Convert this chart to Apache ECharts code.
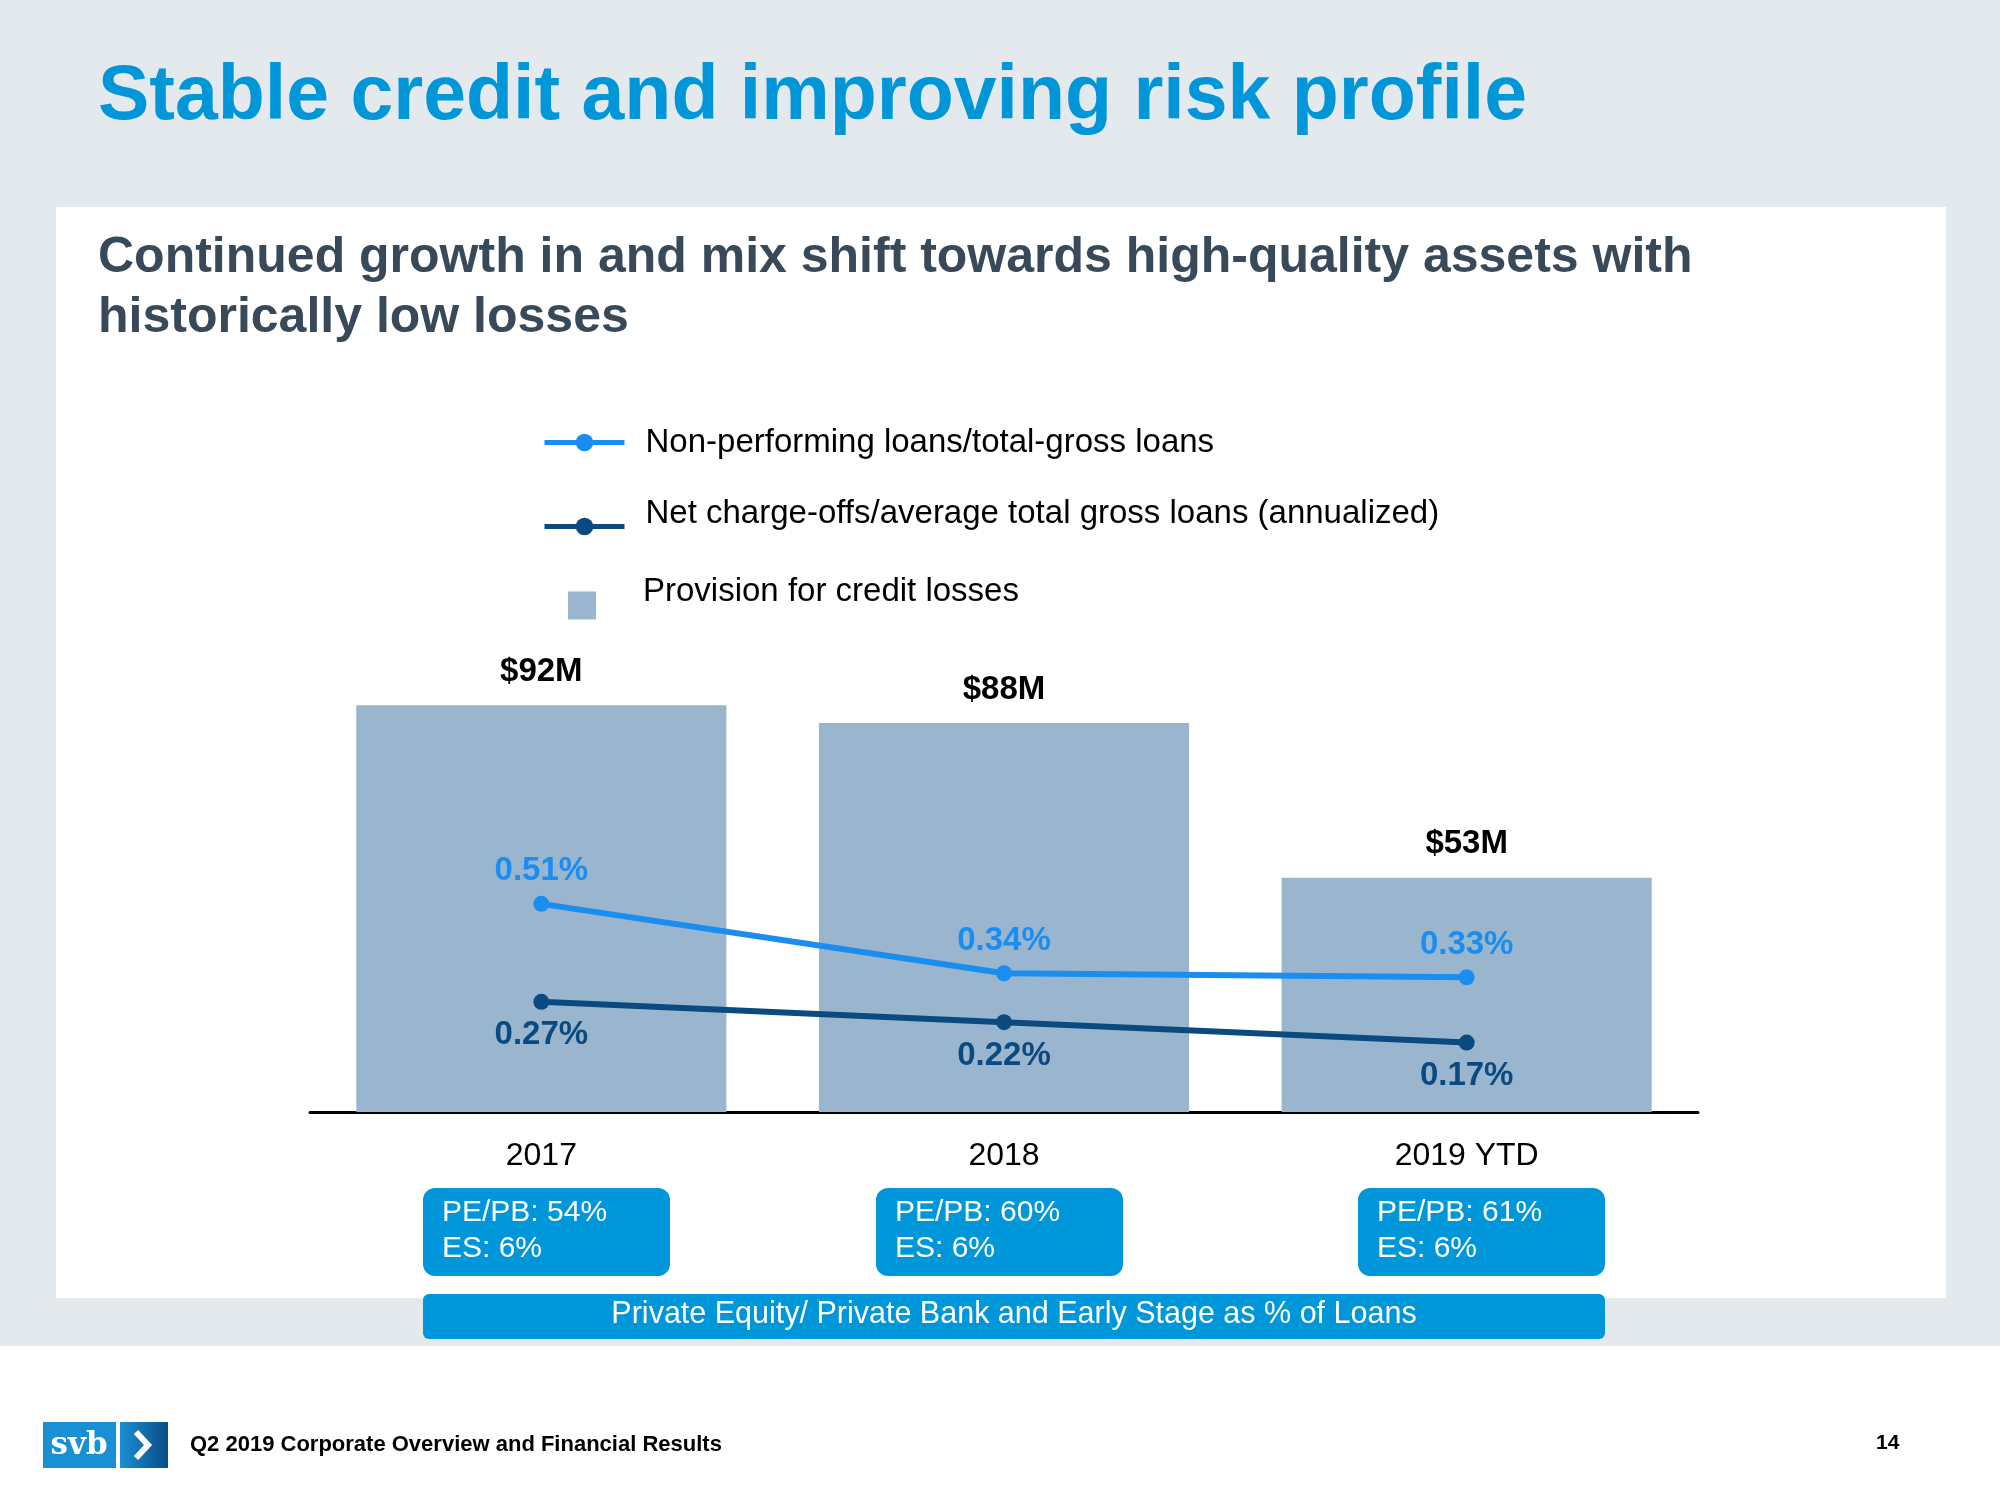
<!DOCTYPE html>
<html>
<head>
<meta charset="utf-8">
<script src="https://cdn.jsdelivr.net/npm/echarts@6/dist/echarts.min.js"></script>
<style>html,body{margin:0;padding:0;background:#fff;}#c{width:2000px;height:1500px;}</style>
</head>
<body>
<div id="c"></div>
<script>
// ---- data ----
var categories = ['2017', '2018', '2019 YTD'];
var provision = [92, 88, 53];            // $M
var nplRatio = [0.51, 0.34, 0.33];       // %
var ncoRatio = [0.27, 0.22, 0.17];       // %
var pePbShare = [54, 60, 61];            // %
var esShare = [6, 6, 6];                 // %
var seriesNames = [
  'Non-performing loans/total-gross loans',
  'Net charge-offs/average total gross loans (annualized)',
  'Provision for credit losses'
];

var FONT = '"Liberation Sans", Arial, sans-serif';
var C_TITLE = '#0096D8';
var C_SUB = '#38495A';
var C_LIGHT = '#1A8EF0';
var C_DARK = '#0B4A80';
var C_BAR = '#9AB5CE';
var C_BOX = '#0096DA';

var chart = echarts.init(document.getElementById('c'), null, {renderer: 'canvas'});

var boxX = [423, 876, 1358];
var graphics = [
  {type: 'rect', z: -20, shape: {x: 0, y: 0, width: 2000, height: 1346}, style: {fill: '#E4E9ED'}, silent: true},
  {type: 'rect', z: -19, shape: {x: 56, y: 207, width: 1890, height: 1091}, style: {fill: '#FFFFFF'}, silent: true},
  {type: 'text', z: 10, left: 98, top: 59, style: {text: 'Stable credit and improving risk profile', fill: C_TITLE, font: 'bold 77px ' + FONT}},
  {type: 'text', z: 10, left: 98, top: 233, style: {text: 'Continued growth in and mix shift towards high-quality assets with', fill: C_SUB, font: 'bold 50px ' + FONT}},
  {type: 'text', z: 10, left: 98, top: 293, style: {text: 'historically low losses', fill: C_SUB, font: 'bold 50px ' + FONT}},
  // bottom banner
  {type: 'rect', z: 5, shape: {x: 423, y: 1294, width: 1182, height: 45, r: 6}, style: {fill: C_BOX}},
  {type: 'text', z: 10, style: {x: 1014, y: 1315, text: 'Private Equity/ Private Bank and Early Stage as % of Loans', fill: '#fff', font: '30.5px ' + FONT, align: 'center', verticalAlign: 'middle'}},
  // footer
  {type: 'rect', z: 5, shape: {x: 43, y: 1422, width: 73, height: 46}, style: {fill: '#1A90D4'}},
  {type: 'text', z: 10, style: {x: 79, y: 1446, text: 'svb', fill: '#fff', font: 'bold 31px "DejaVu Serif", serif', align: 'center', verticalAlign: 'middle'}},
  {type: 'rect', z: 5, shape: {x: 120, y: 1422, width: 48, height: 46}, style: {fill: new echarts.graphic.LinearGradient(0, 0, 1, 0, [{offset: 0, color: '#1A90D4'}, {offset: 1, color: '#0A4C86'}])}},
  {type: 'polyline', z: 10, shape: {points: [[136, 1432], [148, 1445], [136, 1458]]}, style: {stroke: '#fff', lineWidth: 6, fill: null}},
  {type: 'text', z: 10, style: {x: 190, y: 1445, text: 'Q2 2019 Corporate Overview and Financial Results', fill: '#000', font: 'bold 22px ' + FONT, verticalAlign: 'middle'}},
  {type: 'text', z: 10, style: {x: 1876, y: 1443, text: '14', fill: '#000', font: 'bold 21px ' + FONT, verticalAlign: 'middle'}}
];
for (var i = 0; i < categories.length; i++) {
  graphics.push({type: 'rect', z: 5, shape: {x: boxX[i], y: 1188, width: 247, height: 88, r: 12}, style: {fill: C_BOX}});
  graphics.push({type: 'text', z: 10, style: {x: boxX[i] + 19, y: 1213, text: 'PE/PB: ' + pePbShare[i] + '%', fill: '#fff', font: '30px ' + FONT, verticalAlign: 'middle'}});
  graphics.push({type: 'text', z: 10, style: {x: boxX[i] + 19, y: 1249, text: 'ES: ' + esShare[i] + '%', fill: '#fff', font: '30px ' + FONT, verticalAlign: 'middle'}});
}

function legendText(lh, padLeft) {
  return {
    color: '#000', fontFamily: FONT, fontSize: 33,
    rich: {a: {fontSize: 33, color: '#000', fontFamily: FONT, lineHeight: lh, padding: [0, 0, 0, padLeft]}}
  };
}

var option = {
  backgroundColor: '#ffffff',
  animation: false,
  textStyle: {fontFamily: FONT},
  graphic: graphics,
  legend: [
    {data: [seriesNames[0]], left: 537, top: 421, orient: 'vertical', selectedMode: false,
     itemWidth: 80, itemHeight: 22, lineStyle: {width: 5},
     formatter: function (n) { return '{a|' + n + '}'; }, textStyle: legendText(34, 16)},
    {data: [seriesNames[1]], left: 537, top: 492, orient: 'vertical', selectedMode: false,
     itemWidth: 80, itemHeight: 22, lineStyle: {width: 5},
     formatter: function (n) { return '{a|' + n + '}\n{a| }'; }, textStyle: legendText(26, 16)},
    {data: [{name: seriesNames[2], icon: 'rect'}], left: 563, top: 570, orient: 'vertical', selectedMode: false,
     itemWidth: 28, itemHeight: 28,
     formatter: function (n) { return '{a|' + n + '}\n{a| }'; }, textStyle: legendText(28, 42)}
  ],
  grid: {left: 310, right: 302, top: 670, bottom: 388, containLabel: false},
  xAxis: {
    type: 'category', data: categories,
    axisLine: {lineStyle: {color: '#000', width: 3}},
    axisTick: {show: false},
    axisLabel: {fontSize: 32, color: '#000', margin: 28, fontFamily: FONT}
  },
  yAxis: [
    {type: 'value', min: 0, max: 100, show: false, splitLine: {show: false}},
    {type: 'value', min: 0, max: 1.083, show: false, splitLine: {show: false}}
  ],
  series: [
    {name: seriesNames[2], type: 'bar', data: provision, yAxisIndex: 0, barCategoryGap: '20%', z: 1,
     itemStyle: {color: C_BAR},
     label: {show: true, position: 'top', distance: 17, formatter: function (p) { return '$' + p.value + 'M'; },
             fontSize: 33, fontWeight: 'bold', color: '#000', fontFamily: FONT}},
    {name: seriesNames[0], type: 'line', data: nplRatio, yAxisIndex: 1, z: 5,
     symbol: 'circle', symbolSize: 16, color: C_LIGHT,
     lineStyle: {width: 6, color: C_LIGHT}, itemStyle: {color: C_LIGHT},
     label: {show: true, position: 'top', distance: 8, formatter: function (p) { return p.value.toFixed(2) + '%'; },
             fontSize: 33, fontWeight: 'bold', color: C_LIGHT, fontFamily: FONT}},
    {name: seriesNames[1], type: 'line', data: ncoRatio, yAxisIndex: 1, z: 5,
     symbol: 'circle', symbolSize: 16, color: C_DARK,
     lineStyle: {width: 6, color: C_DARK}, itemStyle: {color: C_DARK},
     label: {show: true, position: 'bottom', distance: 9, formatter: function (p) { return p.value.toFixed(2) + '%'; },
             fontSize: 33, fontWeight: 'bold', color: C_DARK, fontFamily: FONT}}
  ]
};
chart.setOption(option);
</script>
</body>
</html>
